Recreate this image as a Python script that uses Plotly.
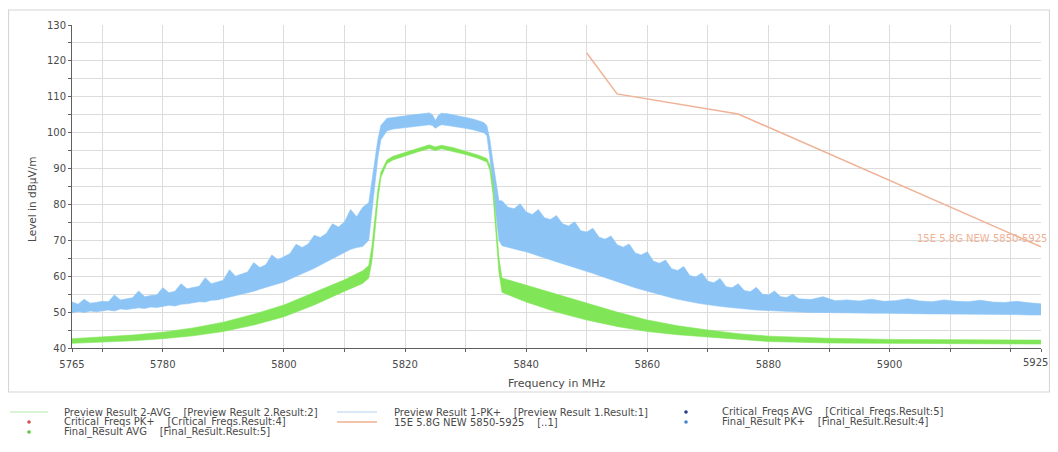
import plotly.graph_objects as go

# ---------------- data ----------------
# Blue (peak) band envelope, left skirt 5765..5813 MHz (1 MHz steps)
blue_left_f = list(range(5765, 5814))
blue_left_hi = [52.8, 52.2, 53.6, 52.5, 52.7, 53.0, 52.9, 54.8, 53.4, 53.6,
                54.0, 55.9, 54.3, 54.6, 54.8, 56.8, 55.4, 55.8, 57.9, 56.5,
                56.8, 57.2, 59.6, 57.9, 58.4, 58.9, 61.8, 60.0, 60.6, 61.2,
                63.8, 62.4, 63.2, 65.9, 64.6, 65.4, 66.3, 68.9, 68.0, 69.0,
                71.4, 70.8, 71.9, 74.6, 73.7, 75.1, 78.6, 76.6, 79.2]
blue_left_lo = [49.8, 50.2, 49.9, 50.3, 50.1, 50.4, 50.6, 50.3, 50.9, 50.7,
                51.0, 51.2, 51.0, 51.4, 51.3, 51.6, 51.9, 51.7, 52.2, 52.3,
                52.6, 52.9, 52.8, 53.3, 53.4, 53.8, 54.2, 54.5, 55.0, 55.3,
                55.8, 56.4, 56.8, 57.4, 57.9, 58.4, 59.2, 59.9, 60.6, 61.4,
                62.2, 63.1, 64.0, 65.0, 65.8, 66.8, 67.5, 68.0, 68.3]
# Blue band: channel edges and plateau
blue_mid_f = [5814, 5814.5, 5815, 5815.5, 5816, 5817, 5818, 5819, 5820, 5821,
              5822, 5823, 5824, 5824.5, 5825, 5825.5, 5826, 5827, 5828, 5829,
              5830, 5831, 5832, 5833, 5833.5, 5834, 5834.5, 5835, 5835.5]
blue_mid_hi = [80.5, 86.0, 92.0, 98.0, 102.0, 104.0, 104.2, 104.5, 104.6, 104.9,
               105.1, 105.3, 105.5, 105.0, 103.4, 104.8, 105.4, 105.3, 105.0, 104.7,
               104.3, 103.9, 103.4, 102.8, 102.0, 98.0, 92.0, 86.0, 81.0]
blue_mid_lo = [70.0, 78.0, 86.0, 93.0, 98.0, 100.5, 101.0, 101.2, 101.4, 101.6,
               101.8, 102.0, 102.2, 102.0, 101.2, 101.8, 102.2, 102.0, 101.8, 101.6,
               101.2, 100.9, 100.5, 100.0, 99.2, 93.0, 85.0, 77.0, 70.0]
# Blue band, right skirt 5836..5885 MHz (1 MHz steps)
blue_right_f = list(range(5836, 5886))
blue_right_hi = [81.0, 79.2, 78.8, 80.2, 77.9, 77.2, 78.6, 76.3, 75.8, 76.9,
                 74.6, 74.0, 75.2, 72.7, 72.3, 73.4, 70.9, 70.3, 71.2, 68.8,
                 68.1, 69.0, 66.5, 65.9, 66.8, 64.2, 63.6, 64.5, 62.1, 61.6,
                 62.7, 60.2, 59.8, 60.9, 58.6, 58.2, 59.4, 57.1, 56.8, 57.9,
                 56.0, 55.7, 56.9, 55.0, 54.8, 55.9, 54.3, 54.1, 55.0, 53.7]
blue_right_lo = [68.5, 68.0, 67.6, 67.2, 66.8, 66.2, 65.7, 65.1, 64.6, 64.0,
                 63.5, 63.0, 62.4, 61.9, 61.4, 60.8, 60.2, 59.6, 59.0, 58.5,
                 57.9, 57.3, 56.8, 56.3, 55.8, 55.3, 54.8, 54.4, 54.0, 53.6,
                 53.2, 52.9, 52.6, 52.3, 52.0, 51.8, 51.6, 51.4, 51.2, 51.0,
                 50.9, 50.8, 50.6, 50.5, 50.4, 50.3, 50.2, 50.1, 50.0, 50.0]
# Blue band tail 5887..5925 MHz (2 MHz steps)
blue_tail_f = list(range(5887, 5926, 2))
blue_tail_hi = [53.5, 54.3, 53.2, 53.4, 53.1, 53.6, 53.0, 53.2, 53.7, 53.1,
                52.9, 53.4, 53.0, 52.9, 53.3, 52.8, 52.7, 53.0, 52.6, 52.3]
blue_tail_lo = [49.9, 49.9, 49.8, 49.8, 49.7, 49.7, 49.7, 49.6, 49.6, 49.6,
                49.5, 49.5, 49.5, 49.4, 49.4, 49.4, 49.3, 49.3, 49.2, 49.2]

# Green (average) band envelope
green_f = [5765, 5770, 5775, 5780, 5785, 5790, 5795, 5800, 5805, 5810, 5813,
           5814, 5814.5, 5815, 5815.5, 5816, 5817, 5818, 5820, 5822, 5824, 5825,
           5826, 5828, 5830, 5832, 5833.5, 5834, 5834.5, 5835, 5835.5, 5836,
           5840, 5845, 5850, 5855, 5860, 5865, 5870, 5875, 5880, 5890, 5900,
           5910, 5925]
green_hi = [42.6, 43.0, 43.6, 44.4, 45.6, 47.2, 49.4, 52.0, 55.4, 59.0, 61.5,
            63.0, 68.0, 76.0, 84.0, 89.0, 92.4, 93.4, 94.5, 95.5, 96.6, 96.0,
            96.5, 95.8, 94.8, 93.8, 92.8, 91.0, 86.0, 76.0, 65.0, 59.5,
            57.5, 55.0, 52.5, 50.0, 47.8, 46.2, 45.0, 44.0, 43.3, 42.7, 42.4,
            42.3, 42.2]
green_lo = [41.3, 41.6, 42.0, 42.6, 43.4, 44.6, 46.4, 48.7, 52.0, 55.8, 58.0,
            59.5, 64.0, 72.0, 81.0, 87.5, 91.4, 92.4, 93.6, 94.6, 95.6, 95.0,
            95.5, 94.8, 93.9, 92.9, 91.8, 89.5, 83.0, 72.0, 61.0, 55.5,
            52.8, 50.0, 47.8, 46.0, 44.6, 43.7, 43.0, 42.3, 41.8, 41.4, 41.3,
            41.2, 41.1]

# Limit line 15E 5.8G NEW 5850-5925
limit_f = [5850, 5855, 5875, 5925]
limit_db = [122.2, 110.8, 105.2, 68.2]
limit_name = "15E 5.8G NEW 5850-5925"

# Axis ticks
x_grid = [5765] + list(range(5770, 5921, 10)) + [5925]
x_labeled = [5765, 5780, 5800, 5820, 5840, 5860, 5880, 5900]
x_last_label = 5925
y_grid = list(range(40, 131, 5))
y_labeled = list(range(40, 131, 10))

# Legend entries: (column, row, text, kind, color)
legend_items = [
    (0, 0, "Preview Result 2-AVG    [Preview Result 2.Result:2]", "line", "rgb(205,240,195)"),
    (0, 1, "Critical_Freqs PK+    [Critical_Freqs.Result:4]", "dot", "rgb(215,80,80)"),
    (0, 2, "Final_Result AVG    [Final_Result.Result:5]", "dot", "rgb(90,200,70)"),
    (1, 0, "Preview Result 1-PK+    [Preview Result 1.Result:1]", "line", "rgb(205,225,245)"),
    (1, 1, "15E 5.8G NEW 5850-5925    [..1]", "line", "rgb(240,175,145)"),
    (2, 0, "Critical_Freqs AVG    [Critical_Freqs.Result:5]", "dot", "rgb(40,60,140)"),
    (2, 1, "Final_Result PK+    [Final_Result.Result:4]", "dot", "rgb(70,130,210)"),
]

# ---------------- style / layout ----------------
# page coordinates: the figure div starts at (8, 8) because of the body margin
OFF = 8
W, H = 1042, 436
PL, PR, PT, PB = 72, 1041, 25, 348          # plot area in page pixels
ML, MR, MT, MB = PL - OFF, OFF + W - PR, PT - OFF, OFF + H - PB
PW, PH = PR - PL, PB - PT
FONT = "DejaVu Sans, Arial, sans-serif"
TXT = "#4a4a4a"
BLUE = "rgb(140,196,246)"
GREEN = "rgb(128,230,88)"
LIMIT = "rgb(240,178,150)"


def px(xp):
    return (xp - PL) / PW


def py(yp):
    return (PB - yp) / PH


fig = go.Figure()


def band(f, lo, hi, color):
    fig.add_trace(go.Scatter(x=f, y=lo, mode="lines", line=dict(color=color, width=0.6),
                             showlegend=False, hoverinfo="skip"))
    fig.add_trace(go.Scatter(x=f, y=hi, mode="lines", line=dict(color=color, width=0.6),
                             fill="tonexty", fillcolor=color, showlegend=False,
                             hoverinfo="skip"))


blue_f = blue_left_f + blue_mid_f + blue_right_f + blue_tail_f
blue_hi = blue_left_hi + blue_mid_hi + blue_right_hi + blue_tail_hi
blue_lo = blue_left_lo + blue_mid_lo + blue_right_lo + blue_tail_lo
band(blue_f, blue_lo, blue_hi, BLUE)
band(green_f, green_lo, green_hi, GREEN)

fig.add_trace(go.Scatter(x=limit_f, y=limit_db, mode="lines",
                         line=dict(color=LIMIT, width=1.5), name=limit_name,
                         showlegend=False))

annotations = [
    dict(x=5925, y=70.4, xref="x", yref="y", text=limit_name, showarrow=False,
         xanchor="right", yanchor="middle", xshift=8,
         font=dict(family=FONT, size=10, color=LIMIT)),
    dict(x=0.5, y=py(383), xref="paper", yref="paper", text="Frequency in MHz",
         showarrow=False, xanchor="center", yanchor="middle",
         font=dict(family=FONT, size=11, color=TXT)),
    dict(x=px(32), y=py(200), xref="paper", yref="paper", text="Level in dBµV/m",
         showarrow=False, textangle=-90, xanchor="center", yanchor="middle",
         font=dict(family=FONT, size=10.5, color=TXT)),
    # last x tick label, nudged left so it stays inside the page
    dict(x=x_last_label, y=py(362), xref="x", yref="paper", text=str(x_last_label),
         showarrow=False, xanchor="right", yanchor="middle", xshift=9,
         font=dict(family=FONT, size=10, color=TXT)),
]

shapes = [
    dict(type="rect", xref="paper", yref="paper", x0=px(8.5), x1=px(1049.5),
         y0=py(392), y1=py(10), line=dict(color="#d6d6d6", width=1.2), layer="below"),
]

col_text_x = [62, 392, 720]
col_icon = [(10, 48, 29), (337, 377, 357), (686, 686, 686)]
row_y = [412, 422, 432]
for col, row, text, kind, color in legend_items:
    yy = row_y[row]
    x0, x1, xc = col_icon[col]
    if kind == "line":
        shapes.append(dict(type="line", xref="paper", yref="paper",
                           x0=px(x0), x1=px(x1), y0=py(yy), y1=py(yy),
                           line=dict(color=color, width=1.5)))
    else:
        shapes.append(dict(type="circle", xref="paper", yref="paper",
                           x0=px(xc - 1.8), x1=px(xc + 1.8), y0=py(yy - 1.8),
                           y1=py(yy + 1.8), fillcolor=color, line=dict(width=0)))
    annotations.append(dict(x=px(col_text_x[col]), y=py(yy), xref="paper", yref="paper",
                            xanchor="left", yanchor="middle", showarrow=False,
                            text=text.replace(" ", "\u00a0"),
                            font=dict(family=FONT, size=10, color=TXT)))

fig.update_layout(
    width=W, height=H,
    margin=dict(l=ML, r=MR, t=MT, b=MB, pad=0),
    paper_bgcolor="white", plot_bgcolor="white",
    font=dict(family=FONT, size=10, color=TXT),
    showlegend=False,
    xaxis=dict(range=[5765, 5925], tickmode="array", tickvals=x_grid,
               ticktext=[str(v) if v in x_labeled else "" for v in x_grid],
               showgrid=True, gridcolor="#dcdcdc", gridwidth=1,
               showline=True, linecolor="#606060", linewidth=1,
               ticks="outside", ticklen=3, tickcolor="#606060",
               ticklabelstandoff=4,
               zeroline=False, tickfont=dict(size=10, color=TXT)),
    yaxis=dict(range=[40, 130], tickmode="array", tickvals=y_grid,
               ticktext=[str(v) if v in y_labeled else "" for v in y_grid],
               showgrid=True, gridcolor="#dcdcdc", gridwidth=1,
               showline=True, linecolor="#606060", linewidth=1,
               ticks="outside", ticklen=3, tickcolor="#606060",
               zeroline=False, tickfont=dict(size=10, color=TXT)),
    annotations=annotations,
    shapes=shapes,
)

fig.write_html("out.html")
